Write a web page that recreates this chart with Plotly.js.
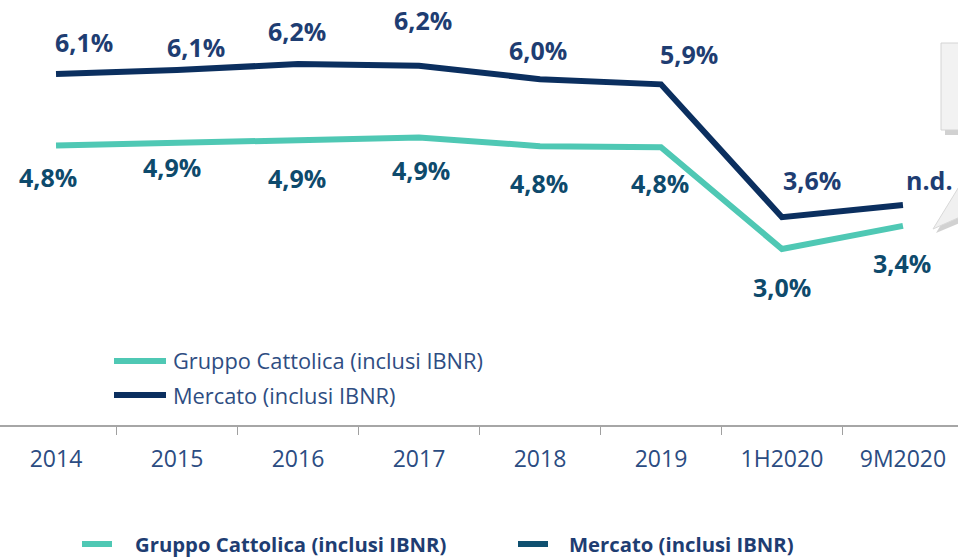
<!DOCTYPE html>
<html>
<head>
<meta charset="utf-8">
<script src="https://cdn.plot.ly/plotly-3.0.1.min.js"></script>
<style>html,body{margin:0;padding:0;background:#fff;}#chart{width:958px;height:558px;}</style>
</head>
<body>
<div id="chart"></div>
<script>
// ---- data ----
const categories = ['2014', '2015', '2016', '2017', '2018', '2019', '1H2020', '9M2020'];
const cattolica = [4.79, 4.84, 4.90, 4.93, 4.78, 4.76, 3.00, 3.40];
const mercato = [6.03, 6.10, 6.20, 6.17, 5.94, 5.85, 3.55, 3.76];
const cattolicaLabels = ['4,8%', '4,9%', '4,9%', '4,9%', '4,8%', '4,8%', '3,0%', '3,4%'];
const mercatoLabels = ['6,1%', '6,1%', '6,2%', '6,2%', '6,0%', '5,9%', '3,6%', 'n.d.'];
const seriesNames = ['Gruppo Cattolica (inclusi IBNR)', 'Mercato (inclusi IBNR)'];

// ---- styling / label placement (pixels) ----
const W = 958, H = 558, PLOT_B = 425;
const teal = '#4FC8B4', navy = '#0B2F5F';
const tealText = '#0E4A6C', navyText = '#1E3D72', axisText = '#2B4C82';
const FONT = '"Open Sans", Lato, sans-serif';
const mercatoShift = [[28, 32], [19, 23], [-1, 33], [4, 46], [-2, 29], [28, 30], [30, 37], [27, 25]];
const cattolicaShift = [[-8, -31], [-5, -24], [-1, -39], [2, -33], [-1, -37], [-1, -36], [0, -38], [-1, -37]];

const px = x => x / W;
const py = y => (PLOT_B - y) / PLOT_B;

const traces = [
  {x: categories, y: cattolica, name: seriesNames[0], type: 'scatter', mode: 'lines',
   line: {color: teal, width: 6}, showlegend: false, hoverinfo: 'skip'},
  {x: categories, y: mercato, name: seriesNames[1], type: 'scatter', mode: 'lines',
   line: {color: navy, width: 6}, showlegend: false, hoverinfo: 'skip'}
];

const annotations = [];
categories.forEach((c, i) => {
  annotations.push({x: i, y: mercato[i], xref: 'x', yref: 'y', text: mercatoLabels[i], showarrow: false,
    xshift: mercatoShift[i][0], yshift: mercatoShift[i][1], xanchor: 'center', yanchor: 'middle',
    font: {family: FONT, size: 25, color: navyText, weight: 'bold'}});
  annotations.push({x: i, y: cattolica[i], xref: 'x', yref: 'y', text: cattolicaLabels[i], showarrow: false,
    xshift: cattolicaShift[i][0], yshift: cattolicaShift[i][1], xanchor: 'center', yanchor: 'middle',
    font: {family: FONT, size: 25, color: tealText, weight: 'bold'}});
});

// inner legend
annotations.push({x: px(171), y: py(360), xref: 'paper', yref: 'paper', text: seriesNames[0], showarrow: false,
  xanchor: 'left', yanchor: 'middle', font: {family: FONT, size: 21.8, color: '#2E4D82'}});
annotations.push({x: px(171), y: py(395), xref: 'paper', yref: 'paper', text: seriesNames[1], showarrow: false,
  xanchor: 'left', yanchor: 'middle', font: {family: FONT, size: 21.8, color: '#2E4D82'}});
// bottom legend
annotations.push({x: px(133), y: py(544), xref: 'paper', yref: 'paper', text: seriesNames[0], showarrow: false,
  xanchor: 'left', yanchor: 'middle', font: {family: FONT, size: 20.3, color: '#1E3D72', weight: 'bold'}});
annotations.push({x: px(567), y: py(544), xref: 'paper', yref: 'paper', text: seriesNames[1], showarrow: false,
  xanchor: 'left', yanchor: 'middle', font: {family: FONT, size: 20.3, color: '#1E3D72', weight: 'bold'}});

function poly(pts) {
  return 'M' + pts.map(p => px(p[0]) + ',' + py(p[1])).join('L') + 'Z';
}

const shapes = [
  // inner legend lines
  {type: 'line', xref: 'paper', yref: 'paper', x0: px(114), x1: px(166), y0: py(361), y1: py(361),
   line: {color: teal, width: 6}},
  {type: 'line', xref: 'paper', yref: 'paper', x0: px(114), x1: px(166), y0: py(395), y1: py(395),
   line: {color: navy, width: 6}},
  // bottom legend bars
  {type: 'line', xref: 'paper', yref: 'paper', x0: px(82), x1: px(112), y0: py(544), y1: py(544),
   line: {color: teal, width: 6}},
  {type: 'line', xref: 'paper', yref: 'paper', x0: px(518), x1: px(548), y0: py(544), y1: py(544),
   line: {color: '#0F5070', width: 6}},
  // callout shadow
  {type: 'path', xref: 'paper', yref: 'paper', path: poly([[945, 48], [962, 48], [962, 135], [945, 135]]),
   fillcolor: 'rgba(0,0,0,0.18)', line: {width: 0}},
  {type: 'path', xref: 'paper', yref: 'paper', path: poly([[936, 233], [962, 190], [962, 222]]),
   fillcolor: 'rgba(0,0,0,0.18)', line: {width: 0}},
  // callout box and tail
  {type: 'path', xref: 'paper', yref: 'paper', path: poly([[941, 43], [962, 43], [962, 130], [941, 130]]),
   fillcolor: '#F2F2F2', line: {color: '#D4D4D4', width: 1}},
  {type: 'path', xref: 'paper', yref: 'paper', path: poly([[933, 229], [960, 185], [960, 217]]),
   fillcolor: '#F0F0F0', line: {color: '#D8D8D8', width: 1}}
];

const layout = {
  width: W, height: H,
  margin: {l: 0, r: 0, t: 0, b: H - PLOT_B, pad: 0},
  paper_bgcolor: '#ffffff', plot_bgcolor: '#ffffff',
  showlegend: false,
  font: {family: FONT},
  xaxis: {
    type: 'category', categoryorder: 'array', categoryarray: categories,
    range: [-0.463, 7.455], tickson: 'boundaries', ticks: 'outside', ticklen: 8, tickwidth: 1.5,
    tickcolor: '#A0A0A0', showline: true, linecolor: '#A6A6A6', linewidth: 2,
    showgrid: false, zeroline: false, ticklabelstandoff: 12,
    tickfont: {family: FONT, size: 23, color: axisText}, fixedrange: true
  },
  yaxis: {range: [-0.047, 7.31], visible: false, showgrid: false, zeroline: false, fixedrange: true},
  annotations: annotations,
  shapes: shapes
};

Plotly.newPlot('chart', traces, layout, {staticPlot: true, displayModeBar: false});
</script>
</body>
</html>
